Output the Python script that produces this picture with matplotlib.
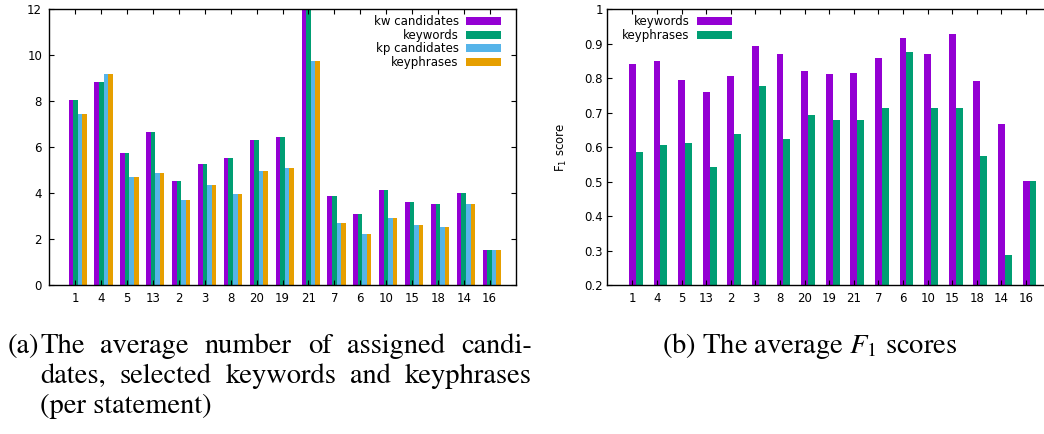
import numpy as np
import matplotlib
matplotlib.use('Agg')
import matplotlib.pyplot as plt
from matplotlib.ticker import FormatStrFormatter

# statement ids, in the order shown on both x axes
groups = ['1', '4', '5', '13', '2', '3', '8', '20', '19', '21', '7', '6', '10', '15', '18', '14', '16']

# (a) average counts per statement
kw_candidates = [8.05, 8.84, 5.74, 6.65, 4.55, 5.26, 5.52, 6.30, 6.45, 12.3, 3.87, 3.11, 4.13, 3.62, 3.52, 4.01, 1.52]
keywords = [8.05, 8.84, 5.74, 6.65, 4.55, 5.26, 5.52, 6.30, 6.45, 12.3, 3.87, 3.11, 4.13, 3.62, 3.52, 4.01, 1.52]
kp_candidates = [7.45, 9.17, 4.70, 4.87, 3.71, 4.36, 3.98, 4.97, 5.11, 9.75, 2.71, 2.22, 2.91, 2.62, 2.52, 3.52, 1.52]
keyphrases = [7.45, 9.17, 4.70, 4.87, 3.71, 4.36, 3.98, 4.97, 5.11, 9.75, 2.71, 2.22, 2.91, 2.62, 2.52, 3.52, 1.52]

# (b) average F1 scores
f1_keywords = [0.841, 0.850, 0.794, 0.760, 0.806, 0.894, 0.870, 0.821, 0.812, 0.814, 0.859, 0.916, 0.870, 0.928, 0.791, 0.668, 0.501]
f1_keyphrases = [0.587, 0.608, 0.613, 0.542, 0.638, 0.779, 0.623, 0.693, 0.678, 0.680, 0.713, 0.875, 0.714, 0.713, 0.576, 0.287, 0.501]

purple = '#9400d3'
green = '#009e73'
blue = '#56b4e9'
orange = '#e69f00'

plt.rcParams['font.family'] = 'DejaVu Sans'
plt.rcParams['font.size'] = 8.5

W, H = 1044, 434
fig = plt.figure(figsize=(W / 100, H / 100), dpi=100)

x = np.arange(len(groups))
leg_kw = dict(markerfirst=False, frameon=False, handlelength=3.0, handleheight=0.65,
              handletextpad=0.6, labelspacing=0.05, borderaxespad=0.4,
              borderpad=0.1, fontsize=8.5)


def style_axes(ax, pad):
    ax.tick_params(direction='in', top=True, right=True, length=3.6, width=0.8, pad=pad)
    ax.tick_params(axis='x', pad=5)
    for s in ax.spines.values():
        s.set_linewidth(1.0)
    ax.set_xticks(x)
    ax.set_xticklabels(groups)


# ---- left: counts
ax1 = fig.add_axes([49 / W, 1 - 285.3 / H, 466.5 / W, 276 / H])
bw = 0.175
series = [(kw_candidates, purple, 'kw candidates'),
          (keywords, green, 'keywords'),
          (kp_candidates, blue, 'kp candidates'),
          (keyphrases, orange, 'keyphrases')]
for i, (vals, col, lab) in enumerate(series):
    ax1.bar(x + (i - 1) * bw, vals, width=bw, color=col, label=lab, linewidth=0)
ax1.set_xlim(-1.02, 17.0)
ax1.set_ylim(0, 12)
ax1.set_yticks(range(0, 13, 2))
style_axes(ax1, 5)
ax1.legend(loc='upper right', bbox_to_anchor=(0.982, 1.0), **leg_kw)

# ---- right: F1 scores
ax2 = fig.add_axes([607 / W, 1 - 285.3 / H, 443.7 / W, 276 / H])
bw2 = 0.28
ax2.bar(x, f1_keywords, width=bw2, color=purple, label='keywords', linewidth=0)
ax2.bar(x + bw2, f1_keyphrases, width=bw2, color=green, label='keyphrases', linewidth=0)
ax2.set_xlim(-1.03, 17.0)
ax2.set_ylim(0.2, 1.0)
ax2.set_yticks(np.arange(0.2, 1.01, 0.1))
ax2.yaxis.set_major_formatter(FormatStrFormatter('%g'))
style_axes(ax2, 3)
ax2.set_ylabel(r'F$_1$ score', labelpad=11)
ax2.legend(loc='upper left', bbox_to_anchor=(0.021, 1.0), **leg_kw)

# ---- captions (justified like the LaTeX subcaptions)
cap = dict(fontfamily='STIXGeneral', fontsize=20.5, va='baseline', math_fontfamily='stix')
renderer = fig.canvas.get_renderer()


def justify(words, x0, x1, ybase):
    texts = [fig.text(0, 1 - ybase / H, w, **cap) for w in words]
    widths = [t.get_window_extent(renderer).width for t in texts]
    gap = (x1 - x0 - sum(widths)) / (len(words) - 1)
    pos = x0
    for t, w in zip(texts, widths):
        t.set_x(pos / W)
        pos += w + gap


fig.text(8 / W, 1 - 353 / H, '(a)', **cap)
justify('The average number of assigned candi-'.split(), 40, 532, 353)
justify('dates, selected keywords and keyphrases'.split(), 40, 532, 383)
fig.text(40 / W, 1 - 413 / H, '(per statement)', **cap)
fig.text(662 / W, 1 - 353 / H, r'(b) The average $F_1$ scores', **cap)

fig.savefig('out.png', dpi=100)
